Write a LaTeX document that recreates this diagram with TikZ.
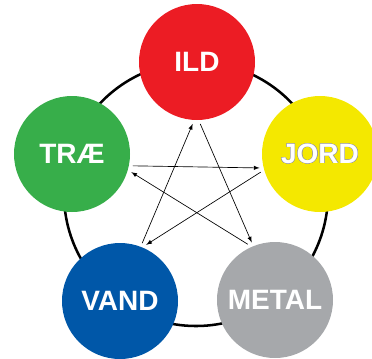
\documentclass[tikz,border=0pt]{standalone}
\usepackage{fontspec}
\setmainfont{Liberation Sans}
\usepackage{contour}
\contourlength{0.3pt}
\definecolor{ildred}{HTML}{EC1C24}
\definecolor{traegreen}{HTML}{37AE4A}
\definecolor{jordyellow}{HTML}{F4E800}
\definecolor{vandblue}{HTML}{0057A8}
\definecolor{metalgray}{HTML}{A6A8AB}
\tikzset{
  element/.style={circle, minimum size=87pt, inner sep=0pt, outer sep=3pt,
    text=white, font=\fontsize{21}{25}\selectfont\bfseries},
  cycle/.style={-latex, line width=0.5pt}
}

\begin{document}
\begin{tikzpicture}[x=0.75pt,y=0.75pt,yscale=-1,xscale=1]
    \useasboundingbox (0,0) rectangle (372,358);
    
    %Big circle
    \draw [line width=1.9pt] (196,194) circle (132);
    
    % Element nodes
    \node [element, fill=ildred] (ild) at (197,62) {ILD};
    \node [element, fill=traegreen] (trae) at (72,154) {TRÆ};
    \node [element, fill=jordyellow] (jord) at (320,154) {\contour{gray!80}{JORD}};
    \node [element, fill=vandblue] (vand) at (120,301) {VAND};
    \node [element, fill=metalgray] (metal) at (275,300) {METAL};
    
    % Star arrows
    \draw [cycle] (trae.-11) -- (jord.193);
    \draw [cycle] (jord.197) -- (vand.65);
    \draw [cycle] (vand.69) -- (ild.266);
    \draw [cycle] (ild.-87) -- (metal.112);
    \draw [cycle] (metal.116) -- (trae.-17);
    
\end{tikzpicture}
\end{document}
